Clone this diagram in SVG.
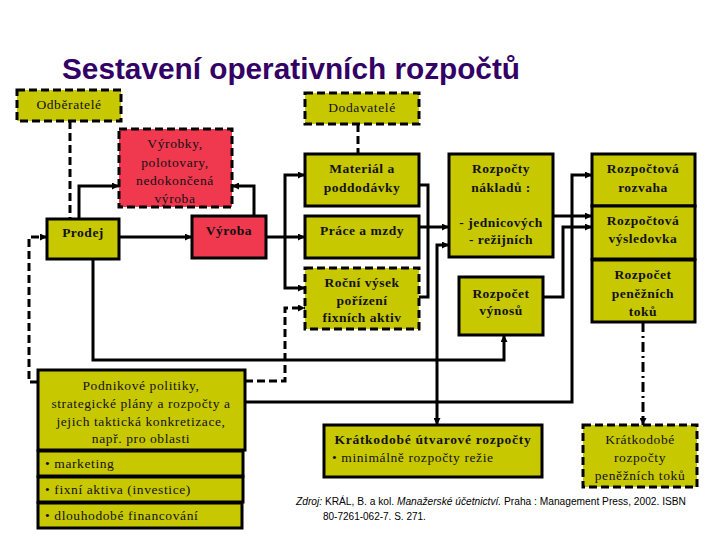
<svg xmlns="http://www.w3.org/2000/svg" width="720" height="540" viewBox="0 0 720 540">
<style>
.y{fill:#c8c800;stroke:#000;stroke-width:3}
.r{fill:#f0384f;stroke:#000;stroke-width:3}
.d{stroke-dasharray:8 4}
.t{font-family:"Liberation Serif","Times New Roman",serif;font-size:13.5px;fill:#111;letter-spacing:0.6px}
.b{font-weight:bold;letter-spacing:0.5px}
.c{text-anchor:middle}
.ln{fill:none;stroke:#000;stroke-width:3}
.dl{stroke-dasharray:8 4}
</style>
<defs>
<marker id="a" viewBox="0 0 8 8" refX="8" refY="4" markerWidth="7" markerHeight="7" markerUnits="userSpaceOnUse" orient="auto"><path d="M0,0 L8,4 L0,8 z" fill="#000"/></marker>
</defs>
<rect width="720" height="540" fill="#fff"/>
<text x="62" y="79" font-family="Liberation Sans,Arial,sans-serif" font-size="29" font-weight="bold" fill="#330066" textLength="458" lengthAdjust="spacingAndGlyphs">Sestavení operativních rozpočtů</text>

<g id="connectors">
<path class="ln dl" d="M70,121 V219"/>
<path class="ln" d="M79,219 V186 H119" marker-end="url(#a)"/>
<path class="ln" d="M119,237 H192" marker-end="url(#a)"/>
<path class="ln" d="M254,216 V186 H232" marker-end="url(#a)"/>
<path class="ln" d="M266,237 H305" marker-end="url(#a)"/>
<path class="ln" d="M285,237 V175 H305" marker-end="url(#a)"/>
<path class="ln" d="M285,237 V288 H305" marker-end="url(#a)"/>
<path class="ln dl" d="M358,124 V154"/>
<path class="ln" d="M419,185 H428 V297 H419"/>
<path class="ln" d="M419,227 H449" marker-end="url(#a)"/>
<path class="ln dl" d="M245,381 H285 V308 H305" marker-end="url(#a)"/>
<path class="ln dl" d="M38,382 H29 V237 H47" marker-end="url(#a)"/>
<path class="ln" d="M93,259 V360 H504 V335" marker-end="url(#a)"/>
<path class="ln" d="M245,402 H572 V175 H592" marker-end="url(#a)"/>
<path class="ln" d="M437,402 V425" marker-end="url(#a)"/>
<path class="ln" d="M437,402 V245 H449" marker-end="url(#a)"/>
<path class="ln" d="M553,216 H592" marker-end="url(#a)"/>
<path class="ln" d="M543,297 H563 V227 H592" marker-end="url(#a)"/>
<path class="ln" d="M643,322 V425" stroke-dasharray="10 4 2 4" marker-end="url(#a)"/>
</g>

<g id="odberatele"><rect class="y d" x="17" y="90" width="104" height="31"/><text class="t c" x="69" y="109">Odběratelé</text></g>
<g id="dodavatele"><rect class="y d" x="305" y="93" width="114" height="31"/><text class="t c" x="362" y="112">Dodavatelé</text></g>
<g id="vyrobky"><rect class="r d" x="119" y="129" width="113" height="78"/>
<text class="t c" x="175" y="148">Výrobky,</text><text class="t c" x="175" y="167">polotovary,</text><text class="t c" x="175" y="185">nedokončená</text><text class="t c" x="175" y="203">výroba</text></g>
<g id="prodej"><rect class="y" x="47" y="219" width="72" height="40"/><text class="t b c" x="83" y="237">Prodej</text></g>
<g id="vyroba"><rect class="r" x="192" y="216" width="74" height="42"/><text class="t b c" x="229" y="235">Výroba</text></g>
<g id="material"><rect class="y" x="305" y="154" width="114" height="52"/><text class="t b c" x="362" y="173">Materiál a</text><text class="t b c" x="362" y="192">poddodávky</text></g>
<g id="prace"><rect class="y" x="305" y="216" width="114" height="42"/><text class="t b c" x="362" y="235">Práce a mzdy</text></g>
<g id="rocni"><rect class="y d" x="305" y="268" width="114" height="61"/><text class="t b c" x="362" y="287">Roční výsek</text><text class="t b c" x="362" y="305">pořízení</text><text class="t b c" x="362" y="322">fixních aktiv</text></g>
<g id="naklady"><rect class="y" x="449" y="154" width="104" height="103"/><text class="t b c" x="501" y="173">Rozpočty</text><text class="t b c" x="501" y="192">nákladů :</text><text class="t b c" x="501" y="227">- jednicových</text><text class="t b c" x="501" y="244">- režijních</text></g>
<g id="vynosy"><rect class="y" x="459" y="277" width="84" height="58"/><text class="t b c" x="501" y="298">Rozpočet</text><text class="t b c" x="501" y="315">výnosů</text></g>
<g id="rozvaha"><rect class="y" x="592" y="154" width="103" height="52"/><text class="t b c" x="643" y="173">Rozpočtová</text><text class="t b c" x="643" y="192">rozvaha</text></g>
<g id="vysledovka"><rect class="y" x="592" y="206" width="103" height="53"/><text class="t b c" x="643" y="225">Rozpočtová</text><text class="t b c" x="643" y="243">výsledovka</text></g>
<g id="toky"><rect class="y" x="592" y="260" width="103" height="62"/><text class="t b c" x="643" y="279">Rozpočet</text><text class="t b c" x="643" y="298">peněžních</text><text class="t b c" x="643" y="316">toků</text></g>
<g id="podnikove"><rect class="y" x="38" y="370" width="207" height="80"/>
<text class="t c" x="141" y="390">Podnikové politiky,</text><text class="t c" x="141" y="408">strategické plány a rozpočty a</text><text class="t c" x="141" y="426">jejich taktická konkretizace,</text><text class="t c" x="141" y="443">např. pro oblasti</text>
<rect class="y" x="38" y="451" width="205" height="25"/><text class="t" x="45" y="468">• marketing</text>
<rect class="y" x="38" y="477" width="205" height="25"/><text class="t" x="45" y="494">• fixní aktiva (investice)</text>
<rect class="y" x="38" y="503" width="204" height="25"/><text class="t" x="45" y="520">• dlouhodobé financování</text></g>
<g id="utvarove"><rect class="y" x="324" y="425" width="218" height="52"/><text class="t b c" x="433" y="444" font-size="14" style="letter-spacing:0.7px">Krátkodobé útvarové rozpočty</text><text class="t" x="332" y="462">• minimálně rozpočty režie</text></g>
<g id="kratkodobe-toky"><rect class="y d" x="583" y="425" width="114" height="62"/><text class="t c" x="640" y="444">Krátkodobé</text><text class="t c" x="640" y="462">rozpočty</text><text class="t c" x="640" y="480">peněžních toků</text></g>

<g font-family="Liberation Sans,Arial,sans-serif" font-size="10" fill="#000">
<text x="296" y="505" textLength="390" lengthAdjust="spacingAndGlyphs"><tspan font-style="italic">Zdroj:</tspan> KRÁL, B. a kol. <tspan font-style="italic">Manažerské účetnictví.</tspan> Praha : Management Press, 2002. ISBN</text>
<text x="323" y="520">80-7261-062-7. S. 271.</text>
</g>
</svg>
